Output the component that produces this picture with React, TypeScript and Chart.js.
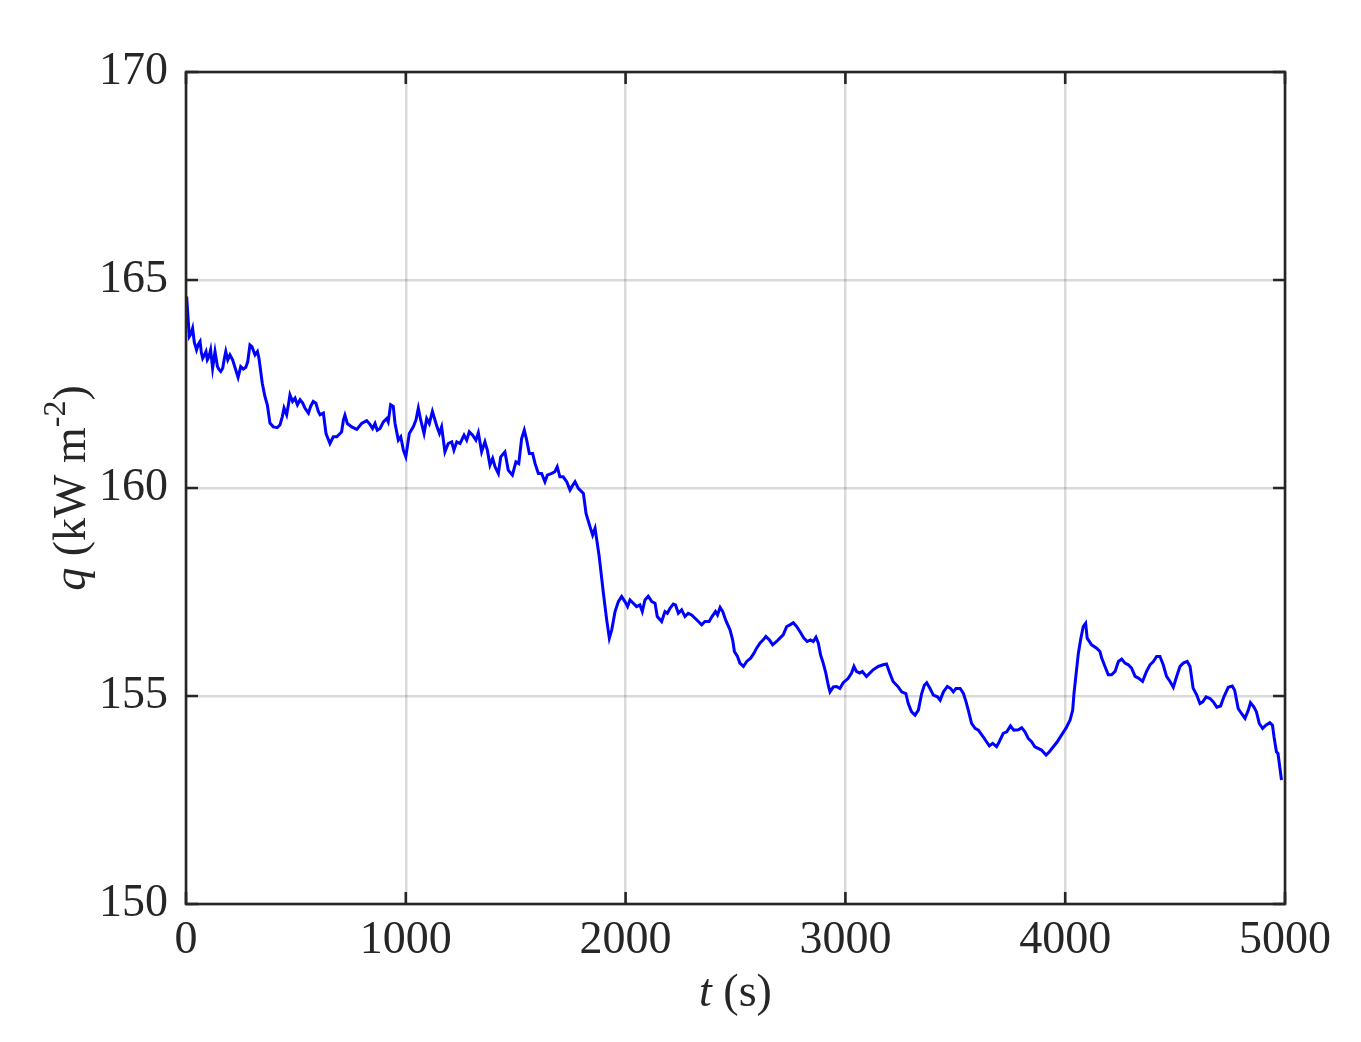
import React, { useEffect, useRef } from "react";
import { Chart, registerables } from "chart.js";

Chart.register(...registerables);

const tSec: number[] = [
  0, 3, 8, 15, 22, 30, 38, 48, 56, 64, 70, 76, 84, 91, 97, 104, 112, 121, 132, 143, 150, 158, 167, 174, 181, 190,
  200, 212, 224, 237, 249, 261, 272, 281, 291, 300, 307, 314, 325, 332, 337, 347, 359, 370, 382, 397, 415, 428,
  438, 446, 458, 466, 473, 485, 496, 507, 519, 531, 541, 557, 567, 579, 591, 602, 610, 625, 637, 655, 670, 686,
  701, 708, 716, 723, 734, 754, 777, 799, 822, 837, 849, 860, 870, 883, 898, 913, 920, 931, 943, 951, 966, 977,
  989, 1000, 1016, 1034, 1046, 1057, 1068, 1083, 1095, 1107, 1121, 1133, 1142, 1153, 1163, 1178, 1193, 1209,
  1219, 1232, 1247, 1265, 1277, 1289, 1304, 1319, 1330, 1345, 1360, 1371, 1383, 1395, 1406, 1421, 1432, 1451,
  1466, 1485, 1501, 1514, 1527, 1539, 1550, 1562, 1577, 1588, 1603, 1618, 1633, 1644, 1664, 1678, 1689, 1701,
  1716, 1732, 1747, 1760, 1770, 1785, 1808, 1820, 1838, 1850, 1861, 1880, 1899, 1914, 1926, 1937, 1952, 1967,
  1982, 1997, 2009, 2020, 2035, 2050, 2065, 2076, 2088, 2103, 2119, 2134, 2144, 2164, 2179, 2190, 2202, 2217,
  2227, 2240, 2255, 2270, 2285, 2300, 2316, 2331, 2346, 2361, 2380, 2393, 2409, 2418, 2430, 2442, 2455, 2475,
  2487, 2495, 2509, 2520, 2536, 2551, 2569, 2584, 2596, 2611, 2626, 2638, 2654, 2669, 2687, 2702, 2717, 2733,
  2748, 2763, 2778, 2793, 2811, 2826, 2841, 2854, 2866, 2877, 2887, 2899, 2911, 2922, 2930, 2945, 2960, 2975,
  2990, 3012, 3028, 3039, 3050, 3065, 3077, 3096, 3111, 3126, 3149, 3172, 3187, 3202, 3217, 3240, 3256, 3275,
  3286, 3301, 3317, 3332, 3347, 3359, 3370, 3385, 3400, 3419, 3431, 3446, 3464, 3479, 3491, 3503, 3522, 3537,
  3549, 3559, 3574, 3590, 3605, 3627, 3642, 3655, 3670, 3688, 3700, 3718, 3734, 3751, 3766, 3787, 3802, 3817,
  3832, 3847, 3862, 3877, 3892, 3913, 3928, 3946, 3964, 3983, 4003, 4022, 4034, 4040, 4050, 4060, 4070, 4082,
  4093, 4100, 4120, 4143, 4158, 4166, 4181, 4196, 4211, 4227, 4242, 4257, 4272, 4287, 4302, 4318, 4333, 4352,
  4370, 4386, 4401, 4416, 4431, 4446, 4461, 4477, 4492, 4507, 4522, 4537, 4555, 4568, 4582, 4598, 4613, 4626,
  4641, 4659, 4674, 4690, 4707, 4722, 4742, 4760, 4771, 4787, 4802, 4818, 4833, 4843, 4858, 4870, 4883, 4898,
  4913, 4931, 4943, 4950, 4961, 4968, 4984,
];

const qFlux: number[] = [
  164.4, 164.6, 164.2, 163.64, 163.7, 163.84, 163.5, 163.32, 163.45, 163.52, 163.25, 163.12, 163.2, 163.28, 163.08,
  163.15, 163.32, 162.88, 163.28, 162.92, 162.85, 162.8, 162.88, 163.1, 163.28, 163.08, 163.2, 163.08, 162.88,
  162.66, 162.92, 162.86, 162.9, 163.04, 163.44, 163.4, 163.3, 163.2, 163.28, 163.12, 162.92, 162.52, 162.2, 162.0,
  161.56, 161.47, 161.45, 161.52, 161.71, 161.92, 161.76, 162.0, 162.24, 162.08, 162.16, 162.0, 162.12, 162.04,
  161.92, 161.8, 161.96, 162.08, 162.04, 161.84, 161.76, 161.8, 161.31, 161.07, 161.23, 161.23, 161.31, 161.35,
  161.63, 161.75, 161.55, 161.47, 161.41, 161.55, 161.62, 161.53, 161.43, 161.55, 161.39, 161.43, 161.59, 161.67,
  161.59, 162.0, 161.96, 161.55, 161.15, 161.23, 160.91, 160.75, 161.31, 161.47, 161.63, 161.92, 161.63, 161.31,
  161.67, 161.55, 161.84, 161.63, 161.47, 161.31, 161.47, 160.87, 161.07, 161.11, 160.91, 161.11, 161.07, 161.27,
  161.15, 161.35, 161.27, 161.15, 161.33, 160.87, 161.11, 160.91, 160.55, 160.71, 160.51, 160.35, 160.75, 160.87,
  160.43, 160.31, 160.63, 160.59, 161.19, 161.39, 161.15, 160.83, 160.83, 160.59, 160.35, 160.35, 160.15, 160.31,
  160.35, 160.39, 160.51, 160.27, 160.27, 160.15, 159.95, 160.07, 160.15, 159.99, 159.87, 159.39, 159.07, 158.87,
  159.03, 158.35, 157.47, 156.83, 156.39, 156.59, 157.03, 157.27, 157.39, 157.27, 157.15, 157.31, 157.23, 157.15,
  157.19, 157.03, 157.31, 157.4, 157.27, 157.23, 156.91, 156.79, 157.03, 156.99, 157.11, 157.21, 157.19, 156.99,
  157.07, 156.91, 156.99, 156.95, 156.87, 156.79, 156.71, 156.79, 156.79, 156.91, 157.03, 156.95, 157.13, 157.03,
  156.83, 156.59, 156.35, 156.07, 155.95, 155.79, 155.71, 155.83, 155.91, 156.03, 156.15, 156.27, 156.35, 156.43,
  156.35, 156.23, 156.31, 156.39, 156.47, 156.67, 156.71, 156.76, 156.67, 156.55, 156.39, 156.31, 156.35, 156.31,
  156.41, 156.27, 155.99, 155.79, 155.55, 155.26, 155.1, 155.22, 155.23, 155.18, 155.32, 155.42, 155.55, 155.71,
  155.59, 155.55, 155.59, 155.47, 155.55, 155.63, 155.71, 155.75, 155.77, 155.55, 155.35, 155.22, 155.1, 155.06,
  154.82, 154.62, 154.54, 154.66, 155.06, 155.26, 155.32, 155.18, 155.02, 154.98, 154.9, 155.1, 155.23, 155.18,
  155.1, 155.18, 155.18, 155.06, 154.86, 154.66, 154.34, 154.22, 154.18, 154.02, 153.9, 153.8, 153.86, 153.78,
  153.9, 154.1, 154.14, 154.28, 154.18, 154.19, 154.24, 154.14, 153.98, 153.9, 153.78, 153.74, 153.7, 153.58,
  153.66, 153.78, 153.9, 154.06, 154.22, 154.42, 154.66, 155.06, 155.55, 156.03, 156.35, 156.67, 156.75, 156.39,
  156.23, 156.15, 156.07, 155.91, 155.71, 155.51, 155.51, 155.59, 155.83, 155.89, 155.79, 155.75, 155.67, 155.47,
  155.43, 155.35, 155.59, 155.75, 155.83, 155.95, 155.95, 155.75, 155.47, 155.35, 155.21, 155.47, 155.71, 155.79,
  155.83, 155.71, 155.19, 155.03, 154.82, 154.86, 154.98, 154.94, 154.86, 154.73, 154.76, 154.98, 155.21, 155.24,
  155.14, 154.7, 154.58, 154.46, 154.66, 154.84, 154.74, 154.62, 154.34, 154.22, 154.3, 154.36, 154.3, 154.02,
  153.66, 153.62, 152.98,
];

const xTicks: number[] = [0, 1000, 2000, 3000, 4000, 5000];
const yTicks: number[] = [150, 155, 160, 165, 170];
const xTitleItalic = "t";
const xTitleRest = " (s)";
const yTitleItalic = "q";
const yTitleMain = " (kW m";
const yTitleSup = "-2";
const yTitleEnd = ")";

const FONT = "'Liberation Serif', 'Times New Roman', serif";
const AXIS_COLOR = "#262626";
const GRID_COLOR = "rgba(38,38,38,0.17)";

const boxPlugin = {
  id: "matlabBox",
  afterDraw(chart: any) {
    const { ctx, chartArea } = chart;
    const { left, right, top, bottom } = chartArea;
    const xs = chart.scales.x;
    const ys = chart.scales.y;
    ctx.save();
    ctx.strokeStyle = AXIS_COLOR;
    ctx.lineWidth = 2.6;
    const tl = 12;
    ctx.beginPath();
    for (const v of xTicks) {
      const px = xs.getPixelForValue(v);
      ctx.moveTo(px, bottom);
      ctx.lineTo(px, bottom - tl);
      ctx.moveTo(px, top);
      ctx.lineTo(px, top + tl);
    }
    for (const v of yTicks) {
      const py = ys.getPixelForValue(v);
      ctx.moveTo(left, py);
      ctx.lineTo(left + tl, py);
      ctx.moveTo(right, py);
      ctx.lineTo(right - tl, py);
    }
    ctx.stroke();
    ctx.lineJoin = "miter";
    ctx.strokeRect(left, top, right - left, bottom - top);

    // x title
    ctx.fillStyle = AXIS_COLOR;
    ctx.textBaseline = "alphabetic";
    const cx = (left + right) / 2;
    ctx.font = `italic 46px ${FONT}`;
    const w1 = ctx.measureText(xTitleItalic).width;
    ctx.font = `46px ${FONT}`;
    const w2 = ctx.measureText(xTitleRest).width;
    const sx = cx - (w1 + w2) / 2;
    const by = 1006;
    ctx.font = `italic 46px ${FONT}`;
    ctx.textAlign = "left";
    ctx.fillText(xTitleItalic, sx, by);
    ctx.font = `46px ${FONT}`;
    ctx.fillText(xTitleRest, sx + w1, by);

    // y title (rotated)
    ctx.save();
    ctx.translate(85, (top + bottom) / 2);
    ctx.rotate(-Math.PI / 2);
    ctx.font = `italic 46px ${FONT}`;
    const a = ctx.measureText(yTitleItalic).width;
    ctx.font = `46px ${FONT}`;
    const b = ctx.measureText(yTitleMain).width;
    ctx.font = `32px ${FONT}`;
    const c = ctx.measureText(yTitleSup).width;
    ctx.font = `46px ${FONT}`;
    const d = ctx.measureText(yTitleEnd).width;
    let x0 = -(a + b + c + d) / 2;
    ctx.font = `italic 46px ${FONT}`;
    ctx.fillText(yTitleItalic, x0, 0);
    x0 += a;
    ctx.font = `46px ${FONT}`;
    ctx.fillText(yTitleMain, x0, 0);
    x0 += b;
    ctx.font = `32px ${FONT}`;
    ctx.fillText(yTitleSup, x0, -20);
    x0 += c;
    ctx.font = `46px ${FONT}`;
    ctx.fillText(yTitleEnd, x0, 0);
    ctx.restore();

    ctx.restore();
  },
};

export default function App() {
  const ref = useRef<HTMLCanvasElement | null>(null);
  useEffect(() => {
    document.body.style.margin = "0";
    const canvas = ref.current;
    if (!canvas) return;
    const points = tSec.map((t, i) => ({ x: t, y: qFlux[i] }));
    const chart = new Chart(canvas, {
      type: "line",
      data: {
        datasets: [
          {
            data: points,
            borderColor: "#0000ff",
            borderWidth: 3,
            pointRadius: 0,
            tension: 0,
            fill: false,
          },
        ],
      },
      options: {
        animation: false,
        responsive: false,
        devicePixelRatio: 1,
        layout: { padding: { left: 0, top: 72, right: 76, bottom: 0 } },
        plugins: { legend: { display: false }, tooltip: { enabled: false } },
        scales: {
          x: {
            type: "linear",
            min: 0,
            max: 5000,
            afterFit: (s: any) => {
              s.height = 138;
            },
            afterBuildTicks: (s: any) => {
              s.ticks = xTicks.map((v) => ({ value: v }));
            },
            ticks: {
              font: { family: FONT, size: 46 },
              color: AXIS_COLOR,
              padding: 9,
              maxRotation: 0,
              autoSkip: false,
              callback: (v: any) => String(v),
            },
            grid: { color: GRID_COLOR, lineWidth: 2.5, drawTicks: false },
            border: { display: false },
          },
          y: {
            type: "linear",
            min: 150,
            max: 170,
            afterFit: (s: any) => {
              s.width = 186;
            },
            afterBuildTicks: (s: any) => {
              s.ticks = yTicks.map((v) => ({ value: v }));
            },
            ticks: {
              font: { family: FONT, size: 46 },
              color: AXIS_COLOR,
              padding: 18,
              autoSkip: false,
              callback: (v: any) => String(v),
            },
            grid: { color: GRID_COLOR, lineWidth: 2.5, drawTicks: false },
            border: { display: false },
          },
        },
      },
      plugins: [boxPlugin],
    });
    return () => chart.destroy();
  }, []);
  return (
    <div style={{ width: 1361, height: 1042, background: "#fff" }}>
      <canvas ref={ref} width={1361} height={1042} style={{ display: "block" }} />
    </div>
  );
}
